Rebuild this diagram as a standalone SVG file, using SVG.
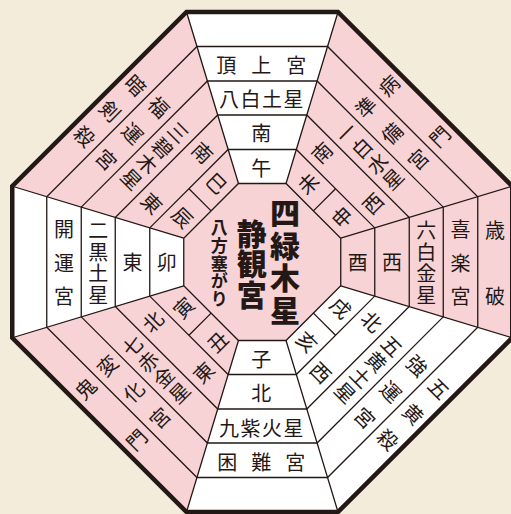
<svg xmlns="http://www.w3.org/2000/svg" width="511" height="514" viewBox="0 0 511 514">
<defs>
<style>
.t{font-family:"Noto Sans CJK JP","Noto Sans",sans-serif;font-size:20px;fill:#231815;text-anchor:middle;dominant-baseline:central}
.big{font-size:30px;font-weight:900}
.sub{font-size:17px;font-weight:700}
.ln{fill:none;stroke:#231815;stroke-width:1.3}
.bd{fill:none;stroke:#231815;stroke-width:4.5;stroke-linejoin:miter}
.pk{fill:#F7D3D5}
.wh{fill:#FFFFFF}
</style>
</defs>
<rect width="511" height="514" fill="#F3ECDB"/>
<g transform="translate(262.25,262)">
  <g id="fills">
    <path class="pk" d="M-75.75,-250 L75.75,-250 L250,-75.75 L250,75.75 L75.75,250 L-75.75,250 L-250,75.75 L-250,-75.75Z"/>
    <polygon class="wh" points="-23.79,-78.5 23.79,-78.5 75.75,-250 -75.75,-250"/>
    <polygon class="wh" points="-78.5,-23.79 -78.5,23.79 -250,75.75 -250,-75.75"/>
    <polygon class="wh" points="23.79,78.5 -23.79,78.5 -75.75,250 75.75,250"/>
    <polygon class="wh" points="78.5,23.79 23.79,78.5 75.75,250 250,75.75"/>
  </g>
  <g id="connectors">
    <path class="ln" d="M-23.79,-78.5 L23.79,-78.5 L78.5,-23.79 L78.5,23.79 L23.79,78.5 L-23.79,78.5 L-78.5,23.79 L-78.5,-23.79Z"/>
    <path class="ln" d="M-34.09,-112.5 L34.09,-112.5 L112.5,-34.09 L112.5,34.09 L34.09,112.5 L-34.09,112.5 L-112.5,34.09 L-112.5,-34.09Z"/>
    <path class="ln" d="M-44.54,-147 L44.54,-147 L147,-44.54 L147,44.54 L44.54,147 L-44.54,147 L-147,44.54 L-147,-44.54Z"/>
    <path class="ln" d="M-54.84,-181 L54.84,-181 L181,-54.84 L181,54.84 L54.84,181 L-54.84,181 L-181,54.84 L-181,-54.84Z"/>
    <path class="ln" d="M-65.3,-215.5 L65.3,-215.5 L215.5,-65.3 L215.5,65.3 L65.3,215.5 L-65.3,215.5 L-215.5,65.3 L-215.5,-65.3Z"/>
    <path class="ln" d="M-23.79,-78.5 L-75.75,-250 M23.79,-78.5 L75.75,-250 M78.5,-23.79 L250,-75.75 M78.5,23.79 L250,75.75 M23.79,78.5 L75.75,250 M-23.79,78.5 L-75.75,250 M-78.5,23.79 L-250,75.75 M-78.5,-23.79 L-250,-75.75"/>
    <path class="ln" d="M51.14,-51.14 L73.29,-73.29 M51.14,51.14 L73.29,73.29 M-51.14,51.14 L-73.29,73.29 M-51.14,-51.14 L-73.29,-73.29"/>
    <path class="bd" d="M-75.75,-250 L75.75,-250 L250,-75.75 L250,75.75 L75.75,250 L-75.75,250 L-250,75.75 L-250,-75.75Z"/>
  </g>
  <g id="center">
    <text class="t big" x="22.75 22.75 22.75 22.75" y="-51 -18.3 14.3 47">四緑木星</text>
    <text class="t big" x="-10.5 -10.5 -10.5" y="-30.5 0.25 31">静観宮</text>
    <text class="t sub" x="-43 -43 -43 -43 -43" y="-35.5 -17.75 0 17.75 35.5">八方塞がり</text>
  </g>
  <g id="sector-south">
    <text class="t" x="-1" y="-95">午</text>
    <text class="t" x="-1" y="-129.5">南</text>
    <text class="t" x="-33.25 -11.75 9.75 31.25" y="-163.5">八白土星</text>
    <text class="t" x="-36 -1 34" y="-198">頂上宮</text>
  </g>
  <g id="sector-north">
    <text class="t" x="-1" y="96">子</text>
    <text class="t" x="-1" y="130.5">北</text>
    <text class="t" x="-33.25 -11.75 9.75 31.25" y="165">九紫火星</text>
    <text class="t" x="-35 -1 33" y="199.5">困難宮</text>
  </g>
  <g id="sector-east">
    <text class="t" x="-95.5" y="-1">卯</text>
    <text class="t" x="-129.75" y="-1">東</text>
    <text class="t" x="-164 -164 -164 -164" y="-32.25 -10.75 10.75 32.25">二黒土星</text>
    <text class="t" x="-198.25 -198.25 -198.25" y="-34 0 33">開運宮</text>
  </g>
  <g id="sector-west">
    <text class="t" x="95.5" y="-1">酉</text>
    <text class="t" x="129.75" y="-1">西</text>
    <text class="t" x="164 164 164 164" y="-32.25 -10.75 10.75 32.25">六白金星</text>
    <text class="t" x="198.25 198.25 198.25" y="-34 0 33">喜楽宮</text>
    <text class="t" x="232.75 232.75" y="-33 33">歳破</text>
  </g>
  <g id="sector-southeast">
    <g transform="translate(-62.22,-62.22) rotate(45)"><text class="t" x="0" y="-24">巳</text><text class="t" x="0" y="24">辰</text></g>
    <g transform="translate(-84.53,-84.53) rotate(45)"><text class="t" x="0 0" y="-36 36">南東</text></g>
    <g transform="translate(-106.85,-106.85) rotate(45)"><text class="t" x="0 0 0 0" y="-33 -11 11 33">三碧木星</text></g>
    <g transform="translate(-129.16,-129.16) rotate(45)"><text class="t" x="0 0 0" y="-37 0 37">福運宮</text></g>
    <g transform="translate(-151.64,-151.64) rotate(45)"><text class="t" x="0 0 0" y="-36 0 36">暗剣殺</text></g>
  </g>
  <g id="sector-southwest">
    <g transform="translate(62.22,-62.22) rotate(-45)"><text class="t" x="0" y="-24">未</text><text class="t" x="0" y="24">申</text></g>
    <g transform="translate(84.53,-84.53) rotate(-45)"><text class="t" x="0 0" y="-36 36">南西</text></g>
    <g transform="translate(106.85,-106.85) rotate(-45)"><text class="t" x="0 0 0 0" y="-33 -11 11 33">一白水星</text></g>
    <g transform="translate(129.16,-129.16) rotate(-45)"><text class="t" x="0 0 0" y="-37 0 37">準備宮</text></g>
    <g transform="translate(151.64,-151.64) rotate(-45)"><text class="t" x="0 0" y="-36 36">病門</text></g>
  </g>
  <g id="sector-northeast">
    <g transform="translate(-62.22,62.22) rotate(-45)"><text class="t" x="0" y="-24">寅</text><text class="t" x="0" y="24">丑</text></g>
    <g transform="translate(-84.53,84.53) rotate(-45)"><text class="t" x="0 0" y="-36 36">北東</text></g>
    <g transform="translate(-106.85,106.85) rotate(-45)"><text class="t" x="0 0 0 0" y="-33 -11 11 33">七赤金星</text></g>
    <g transform="translate(-129.16,129.16) rotate(-45)"><text class="t" x="0 0 0" y="-37 0 37">変化宮</text></g>
    <g transform="translate(-151.64,151.64) rotate(-45)"><text class="t" x="0 0" y="-36 36">鬼門</text></g>
  </g>
  <g id="sector-northwest">
    <g transform="translate(62.22,62.22) rotate(45)"><text class="t" x="0" y="-24">戌</text><text class="t" x="0" y="24">亥</text></g>
    <g transform="translate(84.53,84.53) rotate(45)"><text class="t" x="0 0" y="-36 36">北西</text></g>
    <g transform="translate(106.85,106.85) rotate(45)"><text class="t" x="0 0 0 0" y="-33 -11 11 33">五黄土星</text></g>
    <g transform="translate(129.16,129.16) rotate(45)"><text class="t" x="0 0 0" y="-37 0 37">強運宮</text></g>
    <g transform="translate(151.64,151.64) rotate(45)"><text class="t" x="0 0 0" y="-36 0 36">五黄殺</text></g>
  </g>
</g>
</svg>
